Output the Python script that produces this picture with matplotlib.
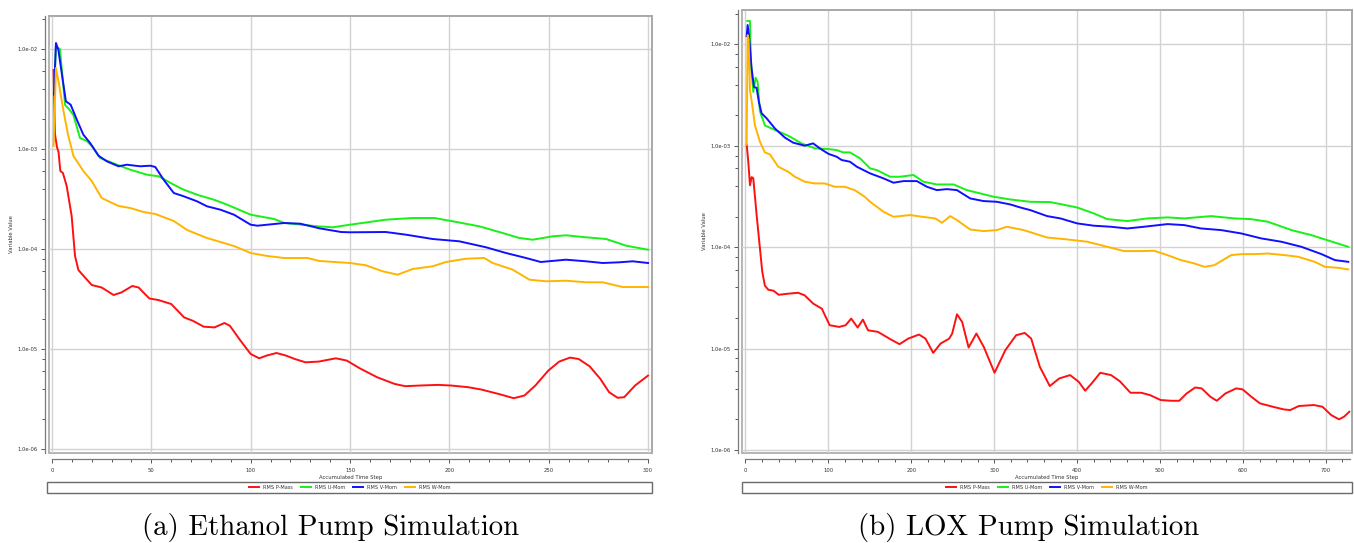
import numpy as np
import matplotlib
matplotlib.use("Agg")
import matplotlib.pyplot as plt
from matplotlib.patches import Rectangle
from matplotlib.ticker import LogLocator, MultipleLocator, FuncFormatter, NullFormatter

# ---- residual histories (log10 of RMS value) ----
# (a) Ethanol pump
eth_p_x = [0.8, 1.5, 2.5, 3.3, 4.2, 5.5, 7.4, 9.9, 11.6, 13.3, 15.5, 20, 25, 31, 34.9, 40.4,
           43.6, 49, 53.5, 60, 66.5, 70.9, 76.4, 81.8, 86.8, 89.5, 94.9, 100, 104.3, 108, 113,
           117.8, 122.2, 127.6, 134.2, 142.9, 148.4, 154.9, 163.6, 172.4, 177.8, 185.5, 194.2,
           200.7, 209.5, 216, 224.7, 232.4, 237.8, 243.3, 249.8, 255.3, 260.7, 265.1, 270.6,
           276, 280.4, 284.7, 288, 293.5, 300]
eth_p_log = [-2.21, -2.85, -2.98, -3.03, -3.22, -3.24, -3.37, -3.67, -4.07, -4.21, -4.26, -4.36,
             -4.385, -4.46, -4.435, -4.37, -4.385, -4.495, -4.51, -4.55, -4.684, -4.718, -4.777,
             -4.784, -4.74, -4.767, -4.917, -5.05, -5.093, -5.066, -5.04, -5.066, -5.1, -5.133,
             -5.126, -5.093, -5.116, -5.193, -5.282, -5.349, -5.372, -5.365, -5.359, -5.365,
             -5.382, -5.405, -5.449, -5.492, -5.465, -5.365, -5.216, -5.126, -5.086, -5.1,
             -5.173, -5.299, -5.432, -5.488, -5.482, -5.365, -5.266]

eth_u_x = [1, 2, 3, 4, 6.6, 8.5, 10.8, 14.1, 17.5, 20.5, 24.2, 32.7, 39.4, 47.8, 53.7, 61.3,
           66.3, 73, 81.5, 88.2, 100, 111.8, 117, 133.7, 141.3, 150, 168, 181.5, 192.4, 201.7,
           215, 226.8, 235.2, 242, 252, 258.7, 268.8, 278.9, 289, 300]
eth_u_log = [-2.46, -1.97, -1.99, -2.0, -2.56, -2.6, -2.66, -2.89, -2.92, -2.98, -3.09, -3.157,
             -3.207, -3.257, -3.273, -3.357, -3.407, -3.457, -3.507, -3.557, -3.657, -3.7, -3.74,
             -3.773, -3.783, -3.757, -3.707, -3.69, -3.69, -3.723, -3.773, -3.84, -3.89, -3.907,
             -3.873, -3.863, -3.883, -3.9, -3.967, -4.007]

eth_v_x = [1, 2, 3.2, 4.9, 7, 9.4, 12.5, 15.8, 19.2, 23.4, 27.6, 33.5, 37.7, 44.4, 49.5, 52,
           56.2, 61.3, 66.3, 73, 78, 84.8, 91.6, 100, 103.4, 116.9, 125, 134.6, 145.5, 150,
           168, 178.2, 191.6, 205, 218.5, 228.5, 238.6, 246, 258.7, 268.8, 277.2, 285.6,
           292.3, 300]
eth_v_log = [-2.457, -1.94, -2.007, -2.24, -2.523, -2.557, -2.707, -2.857, -2.94, -3.067,
             -3.123, -3.173, -3.157, -3.173, -3.167, -3.18, -3.307, -3.44, -3.473, -3.523,
             -3.573, -3.607, -3.657, -3.757, -3.767, -3.74, -3.747, -3.793, -3.83, -3.833,
             -3.83, -3.857, -3.9, -3.923, -3.983, -4.04, -4.09, -4.13, -4.107, -4.123, -4.14,
             -4.133, -4.123, -4.14]

eth_w_x = [0.8, 2, 3.5, 5.7, 8, 10.8, 15.8, 20, 25, 33.5, 39.4, 46.1, 52, 61.3, 68, 78, 84.8,
           91.6, 100, 108.4, 116.9, 128.7, 134.6, 150, 158, 166.4, 174, 181.5, 191.6, 198.3,
           208.4, 217.6, 221.8, 231.9, 240.3, 248.7, 258.7, 268.8, 277.2, 287.2, 300]
eth_w_log = [-2.97, -2.19, -2.35, -2.61, -2.85, -3.07, -3.22, -3.32, -3.49, -3.57, -3.59,
             -3.63, -3.65, -3.72, -3.81, -3.89, -3.93, -3.97, -4.04, -4.07, -4.09, -4.09, -4.12,
             -4.14, -4.163, -4.223, -4.257, -4.2, -4.173, -4.13, -4.097, -4.09, -4.14, -4.207,
             -4.307, -4.323, -4.317, -4.333, -4.333, -4.38, -4.38]

# (b) LOX pump
lox_p_x = [1.5, 3.4, 5.4, 7.4, 9.4, 13.4, 17.4, 20.2, 23.4, 27.5, 33.8, 40.1, 50.5, 63.5, 71.3,
           81.7, 92.1, 101.5, 113, 120.8, 127.5, 135.3, 141.6, 147.8, 159.8, 175.4, 185.8,
           196.3, 209.3, 217.1, 226.4, 235.3, 245.7, 249.3, 255.1, 261.3, 269.1, 278.5, 287.4,
           300.4, 313.4, 326.4, 336.8, 344.6, 355, 367, 378.4, 391.5, 401.9, 409.7, 417.5,
           427.9, 440.9, 451.3, 464.3, 477.3, 487.8, 500.8, 513.8, 523.2, 532, 542.4, 550.2,
           560.6, 568.4, 578.8, 591.8, 599.6, 610, 620.5, 636.1, 649.1, 656.9, 667.3, 685.5,
           695.9, 706.4, 715.8, 722, 728.3]
lox_p_log = [-2.99, -3.16, -3.39, -3.31, -3.32, -3.68, -4.01, -4.24, -4.38, -4.42, -4.43, -4.47,
             -4.46, -4.45, -4.475, -4.557, -4.607, -4.77, -4.787, -4.77, -4.705, -4.793, -4.715,
             -4.82, -4.836, -4.911, -4.957, -4.902, -4.862, -4.902, -5.043, -4.951, -4.902,
             -4.852, -4.662, -4.738, -4.99, -4.852, -4.984, -5.239, -5.016, -4.869, -4.846,
             -4.902, -5.18, -5.37, -5.295, -5.262, -5.328, -5.416, -5.344, -5.239, -5.262,
             -5.321, -5.436, -5.436, -5.459, -5.508, -5.515, -5.515, -5.443, -5.384, -5.393,
             -5.475, -5.515, -5.443, -5.393, -5.403, -5.475, -5.541, -5.574, -5.6, -5.607,
             -5.567, -5.557, -5.574, -5.656, -5.698, -5.672, -5.623]

lox_u_x = [2.2, 5.4, 6.6, 9.4, 12.2, 14.6, 17.4, 23.4, 35.5, 45.5, 53.5, 67.5, 83.6, 99.6, 110,
           118, 126, 138.2, 150.3, 158.3, 174.4, 186.5, 202.6, 214.6, 230.8, 250.9, 267, 283,
           299.2, 319.3, 343.5, 367.7, 400, 420.2, 436.3, 460.6, 484.8, 509, 529.2, 561.5,
           589.7, 609.9, 630.1, 658.4, 682.6, 698.7, 727]
lox_u_log = [-1.77, -1.77, -2.2, -2.47, -2.33, -2.37, -2.66, -2.8, -2.845, -2.88, -2.91, -2.977,
             -3.026, -3.033, -3.043, -3.066, -3.066, -3.125, -3.224, -3.24, -3.306, -3.306,
             -3.289, -3.355, -3.382, -3.382, -3.438, -3.47, -3.503, -3.53, -3.553, -3.556,
             -3.609, -3.668, -3.724, -3.743, -3.717, -3.707, -3.717, -3.694, -3.717, -3.724,
             -3.75, -3.832, -3.882, -3.924, -3.997]

lox_v_x = [1.4, 2.6, 4.2, 7.4, 10.2, 13.4, 16.2, 19.4, 25.5, 35.5, 47.5, 57.5, 71.5, 81.6, 89.6,
           100, 110, 116, 126, 134.2, 150.3, 166.4, 178.5, 190.6, 206.7, 218.8, 230.8, 242.9,
           255, 271, 287.1, 303.2, 319.3, 331.4, 343.5, 363.7, 379.8, 400, 420.2, 440.4, 460.6,
           480.7, 509, 529.2, 549.4, 573.6, 597.8, 622, 646.3, 670.5, 694.7, 710.9, 727]
lox_v_log = [-1.92, -1.81, -1.91, -2.24, -2.42, -2.43, -2.57, -2.68, -2.73, -2.83, -2.92, -2.97,
             -3.0, -2.977, -3.026, -3.08, -3.109, -3.141, -3.158, -3.207, -3.273, -3.322, -3.365,
             -3.349, -3.349, -3.405, -3.438, -3.428, -3.438, -3.52, -3.546, -3.553, -3.579,
             -3.609, -3.635, -3.694, -3.717, -3.766, -3.789, -3.799, -3.816, -3.799, -3.773,
             -3.783, -3.816, -3.832, -3.865, -3.914, -3.947, -3.997, -4.069, -4.128, -4.145]

lox_w_x = [1.4, 2.6, 3.8, 5.4, 8.2, 11.4, 17.4, 23.4, 29.5, 39.5, 51.5, 59.5, 71.5, 83.6, 95.6,
           107.6, 119.7, 131.7, 143.7, 150.3, 166.4, 178.5, 198.6, 218.8, 228.9, 236.9, 247,
           255, 271, 287.1, 303.2, 315.3, 335.4, 363.7, 387.9, 412.1, 428.3, 456.5, 476.7,
           492.9, 509, 525.2, 541.3, 553.4, 565.5, 585.7, 597.8, 614, 630.1, 650.3, 666.4,
           686.6, 698.7, 714.9, 727]
lox_w_log = [-2.99, -1.91, -1.95, -2.45, -2.6, -2.8, -2.96, -3.066, -3.086, -3.207, -3.257,
             -3.306, -3.355, -3.372, -3.372, -3.405, -3.405, -3.438, -3.503, -3.553, -3.651,
             -3.701, -3.684, -3.707, -3.717, -3.76, -3.694, -3.734, -3.826, -3.842, -3.832,
             -3.799, -3.832, -3.905, -3.924, -3.947, -3.98, -4.039, -4.039, -4.036, -4.079,
             -4.128, -4.161, -4.194, -4.178, -4.079, -4.069, -4.069, -4.063, -4.079, -4.095,
             -4.145, -4.194, -4.204, -4.22]

labels = ["RMS P-Mass", "RMS U-Mom", "RMS V-Mom", "RMS W-Mom"]
colors = ["#ff1010", "#18f018", "#1010ff", "#ffb400"]
captions = ["(a) Ethanol Pump Simulation", "(b) LOX Pump Simulation"]

W, H = 1354, 543
fig = plt.figure(figsize=(W / 100, H / 100), dpi=100)


def fx(px):
    return px / W


def fy(py):
    return 1 - py / H


def draw_panel(box, series, xlim, ylog, xmax, major, minor):
    l, t, r, b = box
    ax = fig.add_axes([fx(l), fy(b), fx(r - l), fy(t) - fy(b)])
    lines = []
    for (xs, ls), c, lab in zip(series, colors, labels):
        ln, = ax.plot(xs, 10.0 ** np.array(ls), color=c, lw=1.4, label=lab)
        lines.append(ln)
    ax.set_yscale("log")
    ax.set_xlim(*xlim)
    ax.set_ylim(10.0 ** ylog[0], 10.0 ** ylog[1])

    ax.yaxis.set_major_locator(LogLocator(base=10, numticks=10))
    ax.yaxis.set_minor_locator(LogLocator(base=10, subs=(2, 4, 6, 8), numticks=10))
    ax.yaxis.set_major_formatter(FuncFormatter(lambda v, p: f"{v:.1e}"))
    ax.yaxis.set_minor_formatter(NullFormatter())
    ax.xaxis.set_major_locator(MultipleLocator(major))
    ax.xaxis.set_minor_locator(MultipleLocator(minor))

    ax.grid(True, which="major", color="#d2d2d2", lw=1.0)
    ax.tick_params(axis="both", which="major", labelsize=3.8, length=3, width=0.7,
                   colors="#555555", labelcolor="#333333")
    ax.tick_params(axis="both", which="minor", length=2, width=0.7, colors="#555555")
    ax.tick_params(axis="x", pad=4)
    ax.tick_params(axis="y", pad=2.5)

    for s in ["top", "right"]:
        ax.spines[s].set_color("#a8a8a8")
        ax.spines[s].set_linewidth(1.2)
    ax.spines["left"].set_position(("outward", 3))
    ax.spines["left"].set_color("#7a7a7a")
    ax.spines["left"].set_linewidth(0.9)
    ax.spines["bottom"].set_position(("outward", 4))
    ax.spines["bottom"].set_bounds(0, xmax)
    ax.spines["bottom"].set_color("#7a7a7a")
    ax.spines["bottom"].set_linewidth(0.9)
    ax.add_patch(Rectangle((0, 0), 1, 1, transform=ax.transAxes, fill=False,
                           ec="#a8a8a8", lw=1.2, clip_on=False, zorder=0.5))

    ax.set_xlabel("Accumulated Time Step", fontsize=3.8, labelpad=1, color="#333333")
    ax.set_ylabel("Variable Value", fontsize=3.8, labelpad=2, color="#333333")
    return ax, lines


panels = [
    dict(box=(49, 16, 652, 453), xlim=(-1.5, 302), ylog=(-6.04, -1.67), xmax=300,
         major=50, minor=10,
         series=[(eth_p_x, eth_p_log), (eth_u_x, eth_u_log),
                 (eth_v_x, eth_v_log), (eth_w_x, eth_w_log)],
         legbox=(47, 482, 652, 493), cap_x=331),
    dict(box=(742, 10, 1352, 453), xlim=(-4.2, 731.5), ylog=(-6.03, -1.662), xmax=729,
         major=100, minor=20,
         series=[(lox_p_x, lox_p_log), (lox_u_x, lox_u_log),
                 (lox_v_x, lox_v_log), (lox_w_x, lox_w_log)],
         legbox=(742, 482, 1352, 493), cap_x=1029),
]

for pnl, cap in zip(panels, captions):
    ax, lines = draw_panel(pnl["box"], pnl["series"], pnl["xlim"], pnl["ylog"],
                           pnl["xmax"], pnl["major"], pnl["minor"])
    l, t, r, b = pnl["legbox"]
    fig.patches.append(Rectangle((fx(l), fy(b)), fx(r - l), fy(t) - fy(b),
                                 transform=fig.transFigure, fill=False,
                                 ec="#6a6a6a", lw=1.0))
    fig.legend(lines, labels, loc="center", bbox_to_anchor=(fx((l + r) / 2), fy((t + b) / 2)),
               ncol=4, frameon=False, fontsize=3.6, handlelength=2.0, handletextpad=0.8,
               columnspacing=1.6, labelcolor="#333333")
    fig.text(fx(pnl["cap_x"]), fy(528), cap, fontsize=20.8, family="cmr10",
             ha="center", va="center")

fig.savefig("out.png", dpi=100)
